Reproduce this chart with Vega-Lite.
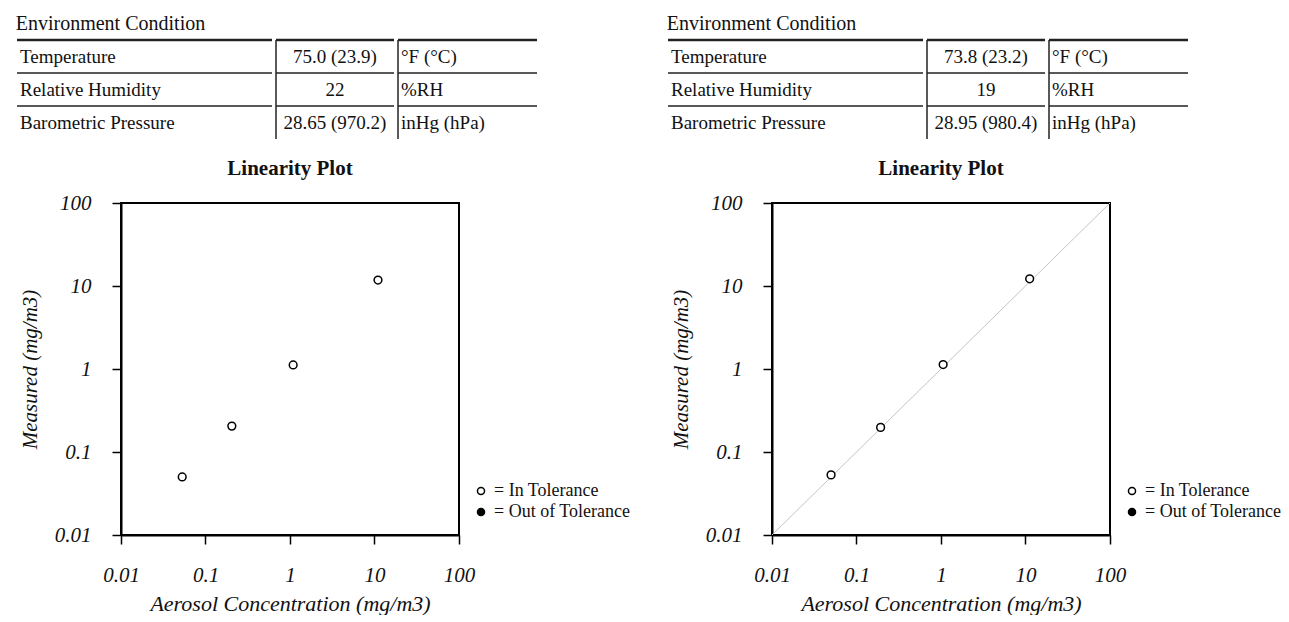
{
  "$schema": "https://vega.github.io/schema/vega-lite/v6.json",
  "padding": {"left": 15, "top": 13, "right": 0, "bottom": 0},
  "background": "white",
  "datasets": {
    "envL": [
      {"param": "Temperature", "val": "75.0 (23.9)", "unit": "°F (°C)"},
      {"param": "Relative Humidity", "val": "22", "unit": "%RH"},
      {"param": "Barometric Pressure", "val": "28.65 (970.2)", "unit": "inHg (hPa)"}
    ],
    "envR": [
      {"param": "Temperature", "val": "73.8 (23.2)", "unit": "°F (°C)"},
      {"param": "Relative Humidity", "val": "19", "unit": "%RH"},
      {"param": "Barometric Pressure", "val": "28.95 (980.4)", "unit": "inHg (hPa)"}
    ],
    "linL": [
      {"conc": 0.053, "meas": 0.05, "status": "In Tolerance"},
      {"conc": 0.205, "meas": 0.205, "status": "In Tolerance"},
      {"conc": 1.09, "meas": 1.12, "status": "In Tolerance"},
      {"conc": 11.0, "meas": 11.8, "status": "In Tolerance"}
    ],
    "linR": [
      {"conc": 0.05, "meas": 0.053, "status": "In Tolerance"},
      {"conc": 0.193, "meas": 0.198, "status": "In Tolerance"},
      {"conc": 1.06, "meas": 1.13, "status": "In Tolerance"},
      {"conc": 11.2, "meas": 12.2, "status": "In Tolerance"}
    ]
  },
  "spacing": 35,
  "resolve": {"scale": {"x": "independent", "y": "independent", "fill": "independent"}, "legend": {"fill": "independent"}},
  "hconcat": [
    {
      "spacing": 17,
      "resolve": {"scale": {"x": "independent", "y": "independent", "fill": "independent"}},
      "vconcat": [
        {
          "title": {"text": "Environment Condition", "anchor": "start", "fontSize": 20, "fontWeight": "normal", "font": "Liberation Serif", "color": "#111", "offset": 5},
          "spacing": 0,
          "resolve": {"scale": {"x": "independent", "y": "independent"}},
          "hconcat": [
            {
              "width": 255, "height": 99, "view": {"stroke": null},
              "data": {"name": "envL"},
              "layer": [
                {"mark": {"type": "text", "align": "left", "dx": 3, "fontSize": 19, "font": "Liberation Serif", "color": "#111"},
                 "encoding": {
                   "y": {"field": "param", "type": "nominal", "sort": null, "scale": {"type": "band", "paddingInner": 0, "paddingOuter": 0}, "axis": null},
                   "x": {"datum": 0, "type": "quantitative", "scale": {"domain": [0, 1]}, "axis": null},
                   "text": {"field": "param"}}},
                {"mark": {"type": "rule", "color": "#222"},
                 "encoding": {
                   "y": {"field": "param", "type": "nominal", "sort": null, "bandPosition": 0, "scale": {"type": "band", "paddingInner": 0, "paddingOuter": 0}, "axis": null},
                   "strokeWidth": {"condition": {"test": "datum.param === 'Temperature'", "value": 2.5}, "value": 1.5}}}
              ]
            },
            {
              "width": 118, "height": 99, "view": {"stroke": null},
              "data": {"name": "envL"},
              "layer": [
                {"mark": {"type": "text", "align": "center", "fontSize": 19, "font": "Liberation Serif", "color": "#111"},
                 "encoding": {
                   "y": {"field": "param", "type": "nominal", "sort": null, "scale": {"type": "band", "paddingInner": 0, "paddingOuter": 0}, "axis": null},
                   "x": {"datum": 0.5, "type": "quantitative", "scale": {"domain": [0, 1]}, "axis": null},
                   "text": {"field": "val"}}},
                {"mark": {"type": "rule", "color": "#222"},
                 "encoding": {
                   "y": {"field": "param", "type": "nominal", "sort": null, "bandPosition": 0, "scale": {"type": "band", "paddingInner": 0, "paddingOuter": 0}, "axis": null},
                   "strokeWidth": {"condition": {"test": "datum.param === 'Temperature'", "value": 2.5}, "value": 1.5}}},
                {"data": {"values": [{}]},
                 "mark": {"type": "rule", "color": "#222", "strokeWidth": 1.5},
                 "encoding": {"x": {"datum": 0, "type": "quantitative", "scale": {"domain": [0, 1]}, "axis": null}}}
              ]
            },
            {
              "width": 139, "height": 99, "view": {"stroke": null},
              "data": {"name": "envL"},
              "layer": [
                {"mark": {"type": "text", "align": "left", "dx": 3, "fontSize": 19, "font": "Liberation Serif", "color": "#111"},
                 "encoding": {
                   "y": {"field": "param", "type": "nominal", "sort": null, "scale": {"type": "band", "paddingInner": 0, "paddingOuter": 0}, "axis": null},
                   "x": {"datum": 0, "type": "quantitative", "scale": {"domain": [0, 1]}, "axis": null},
                   "text": {"field": "unit"}}},
                {"mark": {"type": "rule", "color": "#222"},
                 "encoding": {
                   "y": {"field": "param", "type": "nominal", "sort": null, "bandPosition": 0, "scale": {"type": "band", "paddingInner": 0, "paddingOuter": 0}, "axis": null},
                   "strokeWidth": {"condition": {"test": "datum.param === 'Temperature'", "value": 2.5}, "value": 1.5}}},
                {"data": {"values": [{}]},
                 "mark": {"type": "rule", "color": "#222", "strokeWidth": 1.5},
                 "encoding": {"x": {"datum": 0, "type": "quantitative", "scale": {"domain": [0, 1]}, "axis": null}}}
              ]
            }
          ]
        },
        {
          "spacing": 0,
          "hconcat": [
            {"width": 1, "height": 332, "view": {"stroke": null}, "data": {"values": []}, "mark": "point"},
            {
              "width": 338, "height": 332,
              "view": {"stroke": "black", "strokeWidth": 2},
              "title": {"text": "Linearity Plot", "fontSize": 21, "fontWeight": "bold", "font": "Liberation Serif", "color": "#111", "frame": "group", "offset": 13},
              "data": {"name": "linL"},
              "mark": {"type": "point", "shape": "circle", "size": 60, "stroke": "black", "strokeWidth": 1.5, "opacity": 1},
              "encoding": {
                "x": {"field": "conc", "type": "quantitative", "scale": {"type": "log", "domain": [0.01, 100], "nice": false},
                      "axis": {"title": "Aerosol Concentration (mg/m3)", "values": [0.01, 0.1, 1, 10, 100], "labelExpr": "'' + datum.value"}},
                "y": {"field": "meas", "type": "quantitative", "scale": {"type": "log", "domain": [0.01, 100], "nice": false},
                      "axis": {"title": "Measured (mg/m3)", "values": [0.01, 0.1, 1, 10, 100], "labelExpr": "'' + datum.value"}},
                "fill": {"field": "status", "type": "nominal", "scale": {"domain": ["In Tolerance", "Out of Tolerance"], "range": ["white", "black"]},
                         "legend": {"title": null, "orient": "none", "legendX": 455, "legendY": 279, "labelExpr": "'= ' + datum.label", "symbolType": "circle", "symbolStrokeColor": "black", "symbolStrokeWidth": 1.5, "symbolSize": 50, "labelFont": "Liberation Serif", "labelFontSize": 18, "labelColor": "#111", "rowPadding": 3, "labelOffset": 4}}
              }
            }
          ]
        }
      ]
    },
    {
      "spacing": 17,
      "resolve": {"scale": {"x": "independent", "y": "independent", "fill": "independent"}},
      "vconcat": [
        {
          "title": {"text": "Environment Condition", "anchor": "start", "fontSize": 20, "fontWeight": "normal", "font": "Liberation Serif", "color": "#111", "offset": 5},
          "spacing": 0,
          "resolve": {"scale": {"x": "independent", "y": "independent"}},
          "hconcat": [
            {
              "width": 255, "height": 99, "view": {"stroke": null},
              "data": {"name": "envR"},
              "layer": [
                {"mark": {"type": "text", "align": "left", "dx": 3, "fontSize": 19, "font": "Liberation Serif", "color": "#111"},
                 "encoding": {
                   "y": {"field": "param", "type": "nominal", "sort": null, "scale": {"type": "band", "paddingInner": 0, "paddingOuter": 0}, "axis": null},
                   "x": {"datum": 0, "type": "quantitative", "scale": {"domain": [0, 1]}, "axis": null},
                   "text": {"field": "param"}}},
                {"mark": {"type": "rule", "color": "#222"},
                 "encoding": {
                   "y": {"field": "param", "type": "nominal", "sort": null, "bandPosition": 0, "scale": {"type": "band", "paddingInner": 0, "paddingOuter": 0}, "axis": null},
                   "strokeWidth": {"condition": {"test": "datum.param === 'Temperature'", "value": 2.5}, "value": 1.5}}}
              ]
            },
            {
              "width": 118, "height": 99, "view": {"stroke": null},
              "data": {"name": "envR"},
              "layer": [
                {"mark": {"type": "text", "align": "center", "fontSize": 19, "font": "Liberation Serif", "color": "#111"},
                 "encoding": {
                   "y": {"field": "param", "type": "nominal", "sort": null, "scale": {"type": "band", "paddingInner": 0, "paddingOuter": 0}, "axis": null},
                   "x": {"datum": 0.5, "type": "quantitative", "scale": {"domain": [0, 1]}, "axis": null},
                   "text": {"field": "val"}}},
                {"mark": {"type": "rule", "color": "#222"},
                 "encoding": {
                   "y": {"field": "param", "type": "nominal", "sort": null, "bandPosition": 0, "scale": {"type": "band", "paddingInner": 0, "paddingOuter": 0}, "axis": null},
                   "strokeWidth": {"condition": {"test": "datum.param === 'Temperature'", "value": 2.5}, "value": 1.5}}},
                {"data": {"values": [{}]},
                 "mark": {"type": "rule", "color": "#222", "strokeWidth": 1.5},
                 "encoding": {"x": {"datum": 0, "type": "quantitative", "scale": {"domain": [0, 1]}, "axis": null}}}
              ]
            },
            {
              "width": 139, "height": 99, "view": {"stroke": null},
              "data": {"name": "envR"},
              "layer": [
                {"mark": {"type": "text", "align": "left", "dx": 3, "fontSize": 19, "font": "Liberation Serif", "color": "#111"},
                 "encoding": {
                   "y": {"field": "param", "type": "nominal", "sort": null, "scale": {"type": "band", "paddingInner": 0, "paddingOuter": 0}, "axis": null},
                   "x": {"datum": 0, "type": "quantitative", "scale": {"domain": [0, 1]}, "axis": null},
                   "text": {"field": "unit"}}},
                {"mark": {"type": "rule", "color": "#222"},
                 "encoding": {
                   "y": {"field": "param", "type": "nominal", "sort": null, "bandPosition": 0, "scale": {"type": "band", "paddingInner": 0, "paddingOuter": 0}, "axis": null},
                   "strokeWidth": {"condition": {"test": "datum.param === 'Temperature'", "value": 2.5}, "value": 1.5}}},
                {"data": {"values": [{}]},
                 "mark": {"type": "rule", "color": "#222", "strokeWidth": 1.5},
                 "encoding": {"x": {"datum": 0, "type": "quantitative", "scale": {"domain": [0, 1]}, "axis": null}}}
              ]
            }
          ]
        },
        {
          "spacing": 0,
          "hconcat": [
            {"width": 1, "height": 332, "view": {"stroke": null}, "data": {"values": []}, "mark": "point"},
            {
              "width": 338, "height": 332,
              "view": {"stroke": "black", "strokeWidth": 2},
              "title": {"text": "Linearity Plot", "fontSize": 21, "fontWeight": "bold", "font": "Liberation Serif", "color": "#111", "frame": "group", "offset": 13},
              "layer": [
                {"data": {"values": [{}]},
                 "mark": {"type": "rule", "color": "#c4c4c4", "strokeWidth": 1},
                 "encoding": {
                   "x": {"datum": 0.01, "type": "quantitative"},
                   "y": {"datum": 0.01, "type": "quantitative"},
                   "x2": {"datum": 100},
                   "y2": {"datum": 100}}},
                {"data": {"name": "linR"},
                 "mark": {"type": "point", "shape": "circle", "size": 60, "stroke": "black", "strokeWidth": 1.5, "opacity": 1},
                 "encoding": {
                   "x": {"field": "conc", "type": "quantitative"},
                   "y": {"field": "meas", "type": "quantitative"},
                   "fill": {"field": "status", "type": "nominal", "scale": {"domain": ["In Tolerance", "Out of Tolerance"], "range": ["white", "black"]},
                            "legend": {"title": null, "orient": "none", "legendX": 455, "legendY": 279, "labelExpr": "'= ' + datum.label", "symbolType": "circle", "symbolStrokeColor": "black", "symbolStrokeWidth": 1.5, "symbolSize": 50, "labelFont": "Liberation Serif", "labelFontSize": 18, "labelColor": "#111", "rowPadding": 3, "labelOffset": 4}}
                 }}
              ],
              "encoding": {
                "x": {"type": "quantitative", "scale": {"type": "log", "domain": [0.01, 100], "nice": false},
                      "axis": {"title": "Aerosol Concentration (mg/m3)", "values": [0.01, 0.1, 1, 10, 100], "labelExpr": "'' + datum.value"}},
                "y": {"type": "quantitative", "scale": {"type": "log", "domain": [0.01, 100], "nice": false},
                      "axis": {"title": "Measured (mg/m3)", "values": [0.01, 0.1, 1, 10, 100], "labelExpr": "'' + datum.value"}}
              }
            }
          ]
        }
      ]
    }
  ],
  "config": {
    "font": "Liberation Serif",
    "axis": {
      "grid": false,
      "domainColor": "black", "domainWidth": 2,
      "tickColor": "black", "tickWidth": 1.5, "tickSize": 9,
      "labelFont": "Liberation Serif", "labelFontStyle": "italic", "labelFontSize": 21, "labelColor": "#111",
      "labelFlush": false, "labelOverlap": false,
      "titleFont": "Liberation Serif", "titleFontStyle": "italic", "titleFontWeight": "normal", "titleFontSize": 22, "titleColor": "#111"
    },
    "axisX": {"labelPadding": 20, "titlePadding": 8},
    "axisY": {"labelPadding": 21, "titlePadding": 14, "titleFontSize": 21}
  }
}
